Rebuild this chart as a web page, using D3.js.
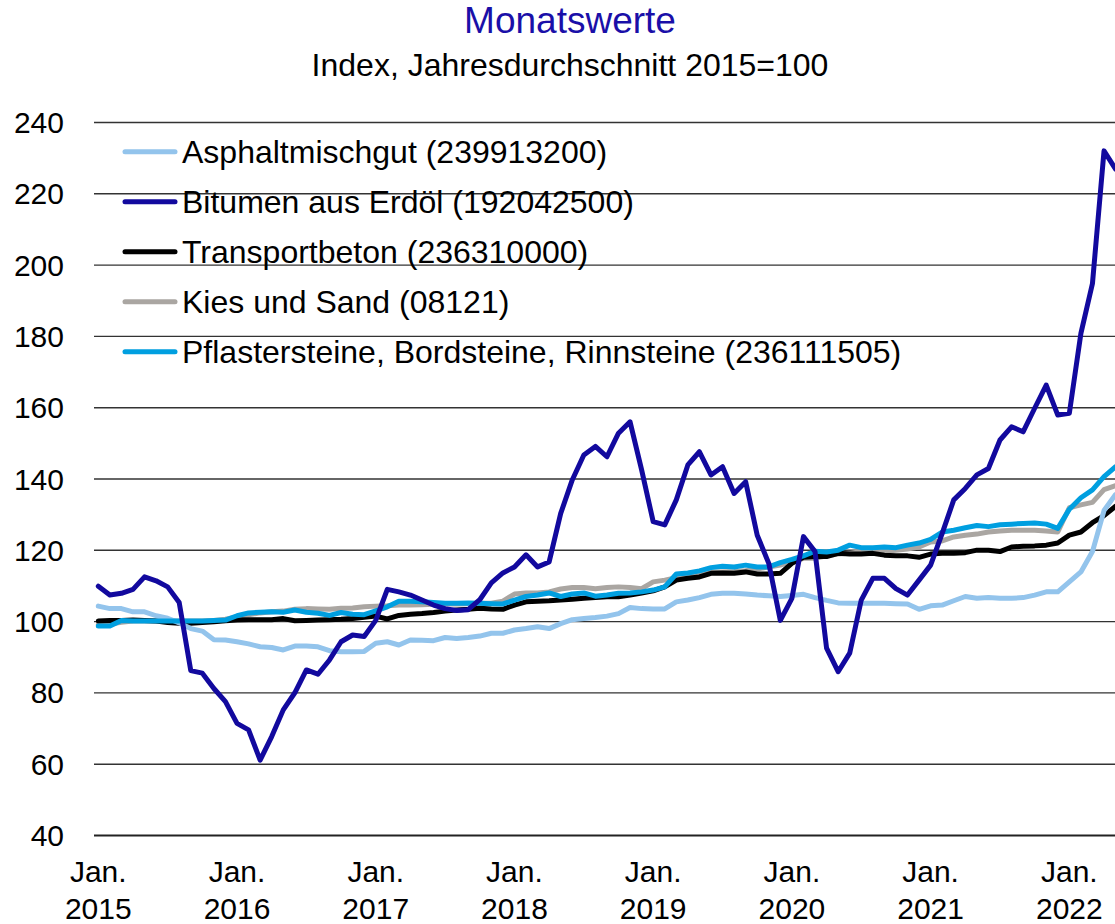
<!DOCTYPE html>
<html>
<head>
<meta charset="utf-8">
<script src="https://cdn.jsdelivr.net/npm/d3@7"></script>
<style>
  html, body { margin: 0; padding: 0; background: #fff; }
  svg { display: block; font-family: "Liberation Sans", Arial, sans-serif; }
</style>
</head>
<body>
<svg id="chart" width="1115" height="924"></svg>
<script>
// ---------- DATA ----------
const months = d3.range(89).map(i => new Date(2015, i, 1)); // Jan 2015 .. May 2022
const seriesNames = [
  "Asphaltmischgut (239913200)",
  "Bitumen aus Erdöl (192042500)",
  "Transportbeton (236310000)",
  "Kies und Sand (08121)",
  "Pflastersteine, Bordsteine, Rinnsteine (236111505)"
];
const asphalt = [104.2,103.5,103.5,102.6,102.6,101.5,100.8,99.5,97.9,97.2,94.8,94.7,94.2,93.6,92.8,92.6,91.9,93.0,93.0,92.8,91.7,91.4,91.4,91.5,
  93.8,94.2,93.3,94.7,94.6,94.5,95.4,95.1,95.4,95.8,96.6,96.6,97.5,97.9,98.4,97.9,99.3,100.4,100.7,101.0,101.4,102.1,103.8,103.5,
  103.4,103.4,105.4,105.9,106.6,107.5,107.8,107.8,107.6,107.3,107.1,106.9,107.2,107.5,106.6,105.8,105.1,105.0,105.0,105.0,105.0,104.9,104.8,103.3,
  104.3,104.5,105.7,106.9,106.4,106.6,106.4,106.4,106.6,107.3,108.2,108.2,111.0,113.8,119.5,131.0,135.5];
const bitumen = [109.8,107.3,107.8,108.9,112.4,111.3,109.6,105.2,86.1,85.4,81.1,77.4,71.3,69.5,61.0,67.6,75.1,79.9,86.3,85.1,89.1,94.2,96.1,95.7,
  100.2,108.9,108.2,107.3,105.9,104.5,103.5,103.0,103.2,106.0,110.7,113.5,115.2,118.6,115.2,116.6,130.2,139.6,146.6,149.0,146.1,152.7,155.9,142.4,
  127.9,127.0,134.0,143.8,147.5,141.0,143.3,135.8,139.1,124.1,116.2,100.2,106.4,123.7,119.5,92.4,85.8,91.0,105.9,112.0,112.0,109.1,107.3,111.5,
  115.7,124.6,134.0,137.2,141.0,142.8,150.8,154.5,153.1,159.7,166.2,157.8,158.3,180.7,194.7,231.9,226.8];
const beton = [100.0,100.2,100.2,100.3,100.2,100.0,99.6,99.4,99.4,99.6,99.8,100.1,100.3,100.4,100.4,100.4,100.7,100.1,100.2,100.3,100.4,100.5,100.7,101.1,
  101.4,100.6,101.6,101.9,102.1,102.4,102.8,103.1,103.3,103.6,103.4,103.3,104.5,105.4,105.6,105.7,105.9,106.1,106.4,106.6,106.8,106.8,107.3,107.9,
  108.5,109.6,111.5,112.0,112.4,113.4,113.5,113.4,113.8,113.2,113.2,113.4,116.2,117.9,118.1,118.1,119.0,118.8,118.8,119.0,118.5,118.3,118.3,117.9,
  118.8,119.0,119.0,119.2,119.9,119.9,119.5,120.8,121.0,121.1,121.3,121.9,124.1,125.0,127.6,129.6,132.2];
const kies = [99.0,99.2,99.7,100.0,100.0,100.0,100.0,100.0,100.0,100.0,100.2,100.5,101.2,101.8,102.3,102.6,102.8,103.3,103.5,103.4,103.3,103.6,103.7,104.0,
  104.2,104.3,104.5,104.5,104.6,104.7,104.8,104.8,104.9,105.0,105.0,105.6,107.6,107.9,107.9,108.2,109.0,109.4,109.4,109.1,109.4,109.6,109.4,109.1,
  111.0,111.5,112.2,112.7,113.3,113.8,113.8,113.9,114.1,114.6,115.2,115.7,116.6,117.6,117.6,118.3,118.8,119.0,119.5,119.5,119.6,119.9,120.2,120.8,
  122.2,122.5,123.6,124.1,124.4,125.0,125.3,125.5,125.5,125.5,125.3,125.0,131.8,132.6,133.3,136.9,138.0];
const pflaster = [98.6,98.6,100.2,100.0,100.0,100.0,100.0,100.0,100.0,100.0,100.2,100.3,101.5,102.3,102.5,102.6,102.5,103.1,102.5,102.2,101.6,102.4,101.9,101.8,
  102.9,104.0,105.6,105.6,105.4,105.2,105.0,105.0,105.1,105.0,104.9,104.8,105.9,106.9,107.3,107.9,106.9,107.6,107.9,107.0,107.3,107.8,107.9,108.2,
  108.7,109.6,113.2,113.5,114.1,115.0,115.4,115.2,115.7,115.2,115.2,116.4,117.3,118.3,119.6,119.4,119.9,121.3,120.6,120.6,120.8,120.6,121.3,121.9,
  122.9,125.0,125.5,126.2,126.8,126.5,127.0,127.2,127.4,127.5,127.2,126.0,131.4,134.6,136.8,140.5,143.3];
const yTicks = [40, 60, 80, 100, 120, 140, 160, 180, 200, 220, 240];
const xTickMonths = [0, 12, 24, 36, 48, 60, 72, 84];
const xTickLabels = [["Jan.","2015"],["Jan.","2016"],["Jan.","2017"],["Jan.","2018"],["Jan.","2019"],["Jan.","2020"],["Jan.","2021"],["Jan.","2022"]];

// ---------- STYLE ----------
const colors = ["#93c4ec", "#12099e", "#000000", "#aaa6a2", "#009fe0"];
const seriesData = [asphalt, bitumen, beton, kies, pflaster];
const drawOrder = [3, 2, 0, 4, 1];

const svg = d3.select("#chart");
const plotLeft = 94, plotRight = 1115;
const x = d3.scalePoint().domain(d3.range(months.length)).range([98.3, 98.3 + 11.56 * (months.length - 1)]);
const y = d3.scaleLinear().domain([40, 240]).range([835, 122]);

// Title
svg.append("text").attr("x", 570).attr("y", 33).attr("text-anchor", "middle")
  .attr("fill", "#1a0fa8").style("font-size", "37px").text("Monatswerte");
svg.append("text").attr("x", 570).attr("y", 76).attr("text-anchor", "middle")
  .attr("fill", "#000").style("font-size", "32px").text("Index, Jahresdurchschnitt 2015=100");

// Gridlines
const grid = svg.append("g").attr("transform", `translate(${plotLeft},0)`)
  .call(d3.axisLeft(y).tickValues(yTicks).tickSize(-(plotRight - plotLeft)).tickFormat(""));
grid.select(".domain").remove();
grid.selectAll(".tick line").attr("stroke", "#333").attr("stroke-width", 1.4);
grid.selectAll(".tick").filter(d => d === 40).select("line").attr("stroke", "#222").attr("stroke-width", 2);

// Y labels
svg.append("g").selectAll("text").data(yTicks).join("text")
  .attr("x", 64).attr("y", d => y(d) + 11).attr("text-anchor", "end")
  .style("font-size", "30px").attr("fill", "#000").text(d => d);

// X labels
const xl = svg.append("g").selectAll("g").data(xTickMonths).join("g");
xl.append("text").attr("x", d => x(d)).attr("y", 882).attr("text-anchor", "middle")
  .style("font-size", "30px").text((d, i) => xTickLabels[i][0]);
xl.append("text").attr("x", d => x(d)).attr("y", 919).attr("text-anchor", "middle")
  .style("font-size", "30px").text((d, i) => xTickLabels[i][1]);

// Lines
const line = d3.line().x((d, i) => x(i)).y(d => y(d));
drawOrder.forEach(k => {
  svg.append("path").datum(seriesData[k]).attr("d", line)
    .attr("fill", "none").attr("stroke", colors[k]).attr("stroke-width", 5)
    .attr("stroke-linejoin", "round").attr("stroke-linecap", "round");
});

// Legend
const lg = svg.append("g");
seriesNames.forEach((name, k) => {
  const cy = 151.7 + k * 50;
  lg.append("line").attr("x1", 125).attr("x2", 175).attr("y1", cy).attr("y2", cy)
    .attr("stroke", colors[k]).attr("stroke-width", 5).attr("stroke-linecap", "round");
  lg.append("text").attr("x", 182).attr("y", cy + 11).style("font-size", "32px").text(name);
});
</script>
</body>
</html>
